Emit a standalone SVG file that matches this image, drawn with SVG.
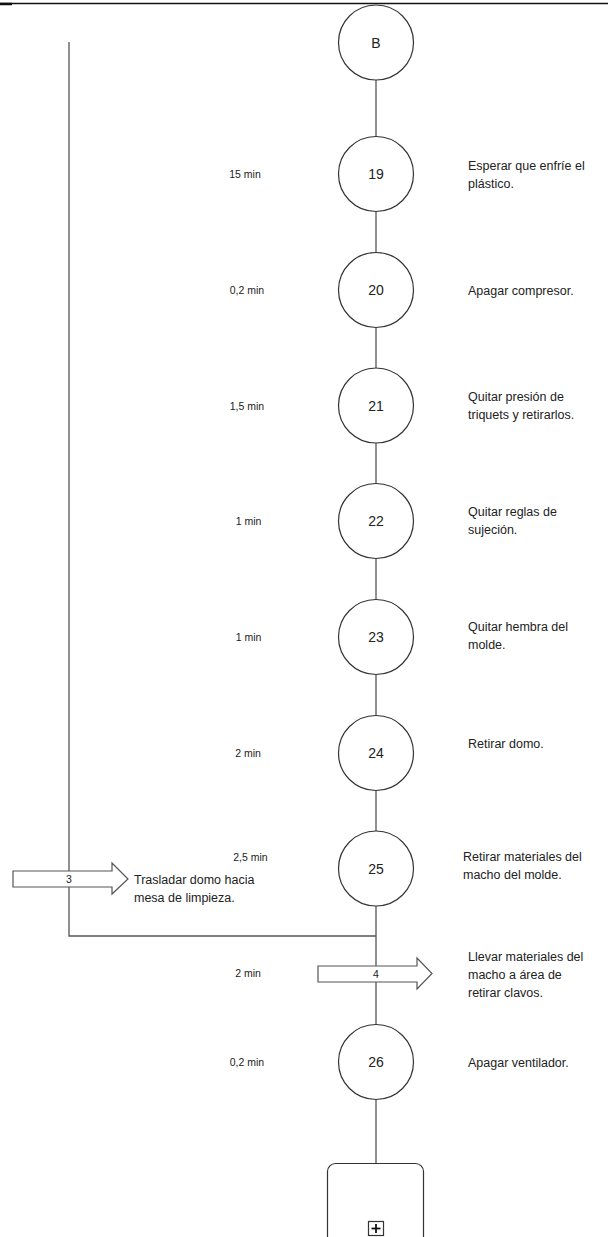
<svg xmlns="http://www.w3.org/2000/svg" width="608" height="1237" viewBox="0 0 608 1237">
<style>
.bg{fill:#ffffff}
.c{fill:#ffffff;stroke:#333333;stroke-width:1.2}
.ln{fill:none;stroke:#555555;stroke-width:1.3}
.ar{fill:#ffffff;stroke:#555555;stroke-width:1.2}
.num{font-family:"Liberation Sans",Arial,sans-serif;font-size:14px;fill:#222222;text-anchor:middle}
.t{font-family:"Liberation Sans",Arial,sans-serif;font-size:10.5px;fill:#222222;text-anchor:middle}
.d{font-family:"Liberation Sans",Arial,sans-serif;font-size:12.5px;fill:#222222}
.s{font-family:"Liberation Sans",Arial,sans-serif;font-size:10.5px;fill:#222222;text-anchor:middle}
</style>
<rect class="bg" x="0" y="0" width="608" height="1237"/>
<line x1="0" y1="3.5" x2="608" y2="3.5" stroke="#111111" stroke-width="1.3"/>
<line x1="0" y1="4" x2="12" y2="4" stroke="#111111" stroke-width="2.5"/>
<g id="connectors">
<line class="ln" x1="376" y1="80" x2="376" y2="1164"/>
<polyline class="ln" points="69,42 69,936 376,936"/>
</g>
<g id="nB"><circle class="c" cx="376" cy="42.5" r="37.5"/><text class="num" x="376" y="47.5">B</text></g>
<g id="n19"><circle class="c" cx="376" cy="174" r="37.5"/><text class="num" x="376" y="179">19</text>
<text class="t" x="245" y="178">15 min</text>
<text class="d" x="468" y="170">Esperar que enfríe el</text><text class="d" x="468" y="188">plástico.</text></g>
<g id="n20"><circle class="c" cx="376" cy="290" r="37.5"/><text class="num" x="376" y="295">20</text>
<text class="t" x="247" y="294">0,2 min</text>
<text class="d" x="468" y="295">Apagar compresor.</text></g>
<g id="n21"><circle class="c" cx="376" cy="405.5" r="37.5"/><text class="num" x="376" y="410.5">21</text>
<text class="t" x="247" y="409.5">1,5 min</text>
<text class="d" x="468" y="401">Quitar presión de</text><text class="d" x="468" y="419">triquets y retirarlos.</text></g>
<g id="n22"><circle class="c" cx="376" cy="521" r="37.5"/><text class="num" x="376" y="526">22</text>
<text class="t" x="248.5" y="525">1 min</text>
<text class="d" x="468" y="516">Quitar reglas de</text><text class="d" x="468" y="534">sujeción.</text></g>
<g id="n23"><circle class="c" cx="376" cy="637" r="37.5"/><text class="num" x="376" y="642">23</text>
<text class="t" x="248.5" y="641">1 min</text>
<text class="d" x="468" y="631">Quitar hembra del</text><text class="d" x="468" y="649">molde.</text></g>
<g id="n24"><circle class="c" cx="376" cy="753" r="37.5"/><text class="num" x="376" y="758">24</text>
<text class="t" x="248" y="757">2 min</text>
<text class="d" x="468" y="748">Retirar domo.</text></g>
<g id="n25"><circle class="c" cx="376" cy="868.5" r="37.5"/><text class="num" x="376" y="873.5">25</text>
<text class="t" x="250.5" y="861">2,5 min</text>
<text class="d" x="463" y="861">Retirar materiales del</text><text class="d" x="463" y="879">macho del molde.</text></g>
<g id="t3"><polygon class="ar" points="13,871 112,871 112,863 128,879 112,894 112,887 13,887"/>
<text class="s" x="69" y="883">3</text>
<text class="d" x="134" y="884">Trasladar domo hacia</text><text class="d" x="134" y="902">mesa de limpieza.</text></g>
<g id="t4"><polygon class="ar" points="318,966 417,966 417,958 432,973.5 417,989 417,982 318,982"/>
<text class="s" x="376" y="977.5">4</text>
<text class="t" x="248" y="977">2 min</text>
<text class="d" x="468" y="961">Llevar materiales del</text><text class="d" x="468" y="979">macho a área de</text><text class="d" x="468" y="997">retirar clavos.</text></g>
<g id="n26"><circle class="c" cx="376" cy="1062" r="37.5"/><text class="num" x="376" y="1067">26</text>
<text class="t" x="247" y="1066">0,2 min</text>
<text class="d" x="468" y="1067">Apagar ventilador.</text></g>
<g id="sub"><rect class="c" x="327.5" y="1163.5" width="96" height="82" rx="8"/>
<rect x="368.5" y="1221.5" width="15" height="14" fill="#ffffff" stroke="#333333" stroke-width="1.2"/>
<line x1="376" y1="1224" x2="376" y2="1233" stroke="#111111" stroke-width="1.8"/>
<line x1="371.5" y1="1228.5" x2="380.5" y2="1228.5" stroke="#111111" stroke-width="1.8"/></g>
</svg>
